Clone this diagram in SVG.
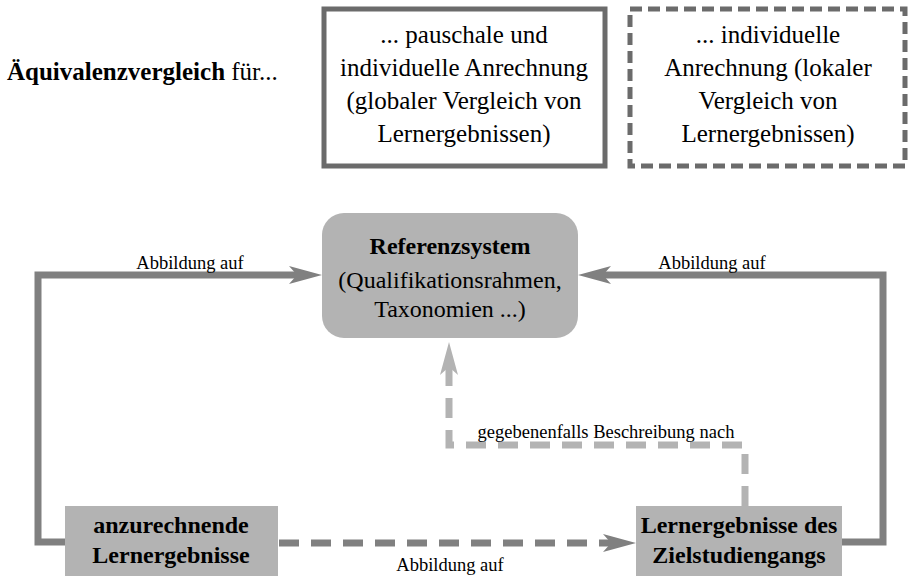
<svg xmlns="http://www.w3.org/2000/svg" width="909" height="576" viewBox="0 0 909 576">
<defs>
<style>
text{font-family:'Liberation Serif','DejaVu Serif','Times New Roman',serif;fill:#000}
.t24{font-size:24px}
.t25{font-size:25px}
.b{font-weight:bold}
.lbl{font-size:18.5px}
.c{text-anchor:middle}
.node{fill:#b3b3b3}
.dark{stroke:#808080;stroke-width:7;fill:none}
.light{stroke:#b3b3b3;stroke-width:7;fill:none}
.frame{fill:none;stroke:#6b6b6b;stroke-width:5}
</style>
<marker id="ad" viewBox="0 0 33 18" refX="8" refY="9" markerUnits="userSpaceOnUse" markerWidth="33" markerHeight="18" orient="auto"><path d="M0,0 L33,9 L0,18 L8,9 Z" fill="#808080"/></marker>
<marker id="al" viewBox="0 0 33 18" refX="8" refY="9" markerUnits="userSpaceOnUse" markerWidth="33" markerHeight="18" orient="auto"><path d="M0,0 L33,9 L0,18 L8,9 Z" fill="#b3b3b3"/></marker>
</defs>
<rect width="909" height="576" fill="#fff"/>
<g id="legend">
<text x="7" y="80" class="t25"><tspan class="b">Äquivalenzvergleich</tspan> für...</text>
</g>
<g id="legend-global">
<rect class="frame" x="324" y="9" width="281" height="157"/>
<text class="t25 c" x="464" y="43">... pauschale und</text>
<text class="t25 c" x="464" y="76">individuelle Anrechnung</text>
<text class="t25 c" x="464" y="109">(globaler Vergleich von</text>
<text class="t25 c" x="464" y="142">Lernergebnissen)</text>
</g>
<g id="legend-local">
<rect class="frame" x="630" y="9" width="275" height="157" stroke-dasharray="12,6"/>
<text class="t25 c" x="768" y="43">... individuelle</text>
<text class="t25 c" x="768" y="76">Anrechnung (lokaler</text>
<text class="t25 c" x="768" y="109">Vergleich von</text>
<text class="t25 c" x="768" y="142">Lernergebnissen)</text>
</g>
<g id="connectors">
<path class="dark" d="M66,542 H38 V275 H297" marker-end="url(#ad)"/>
<path class="dark" d="M842,542 H883 V275 H603" marker-end="url(#ad)"/>
<path class="dark" d="M279,543 H611" stroke-dasharray="20,12" marker-end="url(#ad)"/>
<path class="light" d="M745,506 V445 H449 V367" stroke-dasharray="20,12" marker-end="url(#al)"/>
<text class="lbl c" x="190" y="269">Abbildung auf</text>
<text class="lbl c" x="712" y="269">Abbildung auf</text>
<text class="lbl c" x="450" y="571">Abbildung auf</text>
<text class="lbl c" x="606" y="438">gegebenenfalls Beschreibung nach</text>
</g>
<g id="referenzsystem">
<rect class="node" x="322" y="213" width="256" height="125" rx="22"/>
<text class="t24 c b" x="450" y="254">Referenzsystem</text>
<text class="t24 c" x="450" y="288">(Qualifikationsrahmen,</text>
<text class="t24 c" x="450" y="317">Taxonomien ...)</text>
</g>
<g id="anzurechnende">
<rect class="node" x="65" y="506" width="213" height="70"/>
<text class="t24 c b" x="171" y="533">anzurechnende</text>
<text class="t24 c b" x="171" y="563">Lernergebnisse</text>
</g>
<g id="zielstudiengang">
<rect class="node" x="636" y="506" width="206" height="70"/>
<text class="t24 c b" x="739" y="533">Lernergebnisse des</text>
<text class="t24 c b" x="739" y="563">Zielstudiengangs</text>
</g>
</svg>
